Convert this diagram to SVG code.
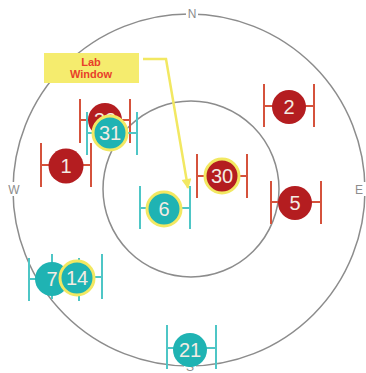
<svg xmlns="http://www.w3.org/2000/svg" width="366" height="373" viewBox="0 0 366 373">
<defs>
<style>
.ring{fill:none;stroke:#8c8c8c;stroke-width:1.5}
.cmp{font-family:"Liberation Sans",Arial,sans-serif;font-size:12px;fill:#8c8c8c;text-anchor:middle}
.rb{stroke:#d5523c;stroke-width:2;fill:none}
.tb{stroke:#4ec6c6;stroke-width:2;fill:none}
.red{fill:#b41d20}
.teal{fill:#1fb3b3}
.hl{stroke:#f2e862;stroke-width:3}
.lbl{font-family:"Liberation Sans",Arial,sans-serif;font-size:20px;fill:#f3ece4;text-anchor:middle}
.call{font-family:"Liberation Sans",Arial,sans-serif;font-size:11px;font-weight:bold;fill:#e8402a;text-anchor:middle}
</style>
<marker id="ah" viewBox="0 0 10 10" refX="9" refY="5" markerWidth="4.5" markerHeight="4" orient="auto" markerUnits="strokeWidth">
<path d="M0,0 L10,5 L0,10 Z" fill="#f2e862"/>
</marker>
</defs>
<rect width="366" height="373" fill="#ffffff"/>
<g id="rings">
<circle class="ring" cx="189" cy="190" r="176"/>
<circle class="ring" cx="191" cy="189" r="88"/>
<rect x="186" y="6" width="12" height="14" fill="#fff"/>
<text class="cmp" x="192" y="18">N</text>
<rect x="7" y="182" width="14" height="14" fill="#fff"/>
<text class="cmp" x="14" y="194">W</text>
<rect x="184" y="359" width="12" height="14" fill="#fff"/>
<text class="cmp" x="190" y="371">S</text>
<rect x="354" y="182" width="12" height="14" fill="#fff"/>
<text class="cmp" x="359" y="194">E</text>
</g>
<g id="bars">
<path class="rb" d="M41,143V187M91,143V187M41,165H91"/>
<path class="rb" d="M264,84V127M314,84V127M264,106H314"/>
<path class="rb" d="M80,99V143M130,99V143M80,120H130"/>
<path class="tb" d="M87,112V155M137,112V155M87,133H137"/>
<path class="rb" d="M197,154V198M247,154V198M197,176H247"/>
<path class="tb" d="M140,186V229M190,186V229M140,208H190"/>
<path class="rb" d="M271,181V224M321,181V224M271,202H321"/>
<path class="tb" d="M29,258V301M79,258V301M29,279H79"/>
<path class="tb" d="M52,254V299M102,254V299M52,277H102"/>
<path class="tb" d="M167,325V369M216,325V369M167,348H216"/>
</g>
<g id="n1"><circle class="red" cx="66" cy="166" r="17.5"/><text class="lbl" x="66" y="173">1</text></g>
<g id="n2"><circle class="red" cx="289" cy="107" r="17"/><text class="lbl" x="289" y="114">2</text></g>
<g id="n32"><circle class="red" cx="105" cy="120" r="17"/><text class="lbl" x="105" y="127">32</text></g>
<g id="n31"><circle class="teal hl" cx="110" cy="133" r="17"/><text class="lbl" x="110" y="140">31</text></g>
<g id="n30"><circle class="red hl" cx="222" cy="176" r="17"/><text class="lbl" x="222" y="183">30</text></g>
<g id="n6"><circle class="teal hl" cx="164" cy="209" r="17"/><text class="lbl" x="164" y="216">6</text></g>
<g id="n5"><circle class="red" cx="295" cy="203" r="17"/><text class="lbl" x="295" y="210">5</text></g>
<g id="n7"><circle class="teal" cx="52" cy="279" r="17"/><text class="lbl" x="52" y="286">7</text></g>
<g id="n14"><circle class="teal hl" cx="77" cy="278" r="17"/><text class="lbl" x="77" y="285">14</text></g>
<g id="n21"><circle class="teal" cx="190" cy="350" r="17"/><text class="lbl" x="190" y="357">21</text></g>
<g id="callout">
<rect x="44" y="53" width="95" height="30" fill="#f5ec6e"/>
<text class="call" x="91" y="66">Lab</text>
<text class="call" x="91" y="78">Window</text>
</g>
<g id="connectors">
<polyline points="143,59 166,59 188,188" fill="none" stroke="#f2e862" stroke-width="2.5" marker-end="url(#ah)"/>
</g>
</svg>
